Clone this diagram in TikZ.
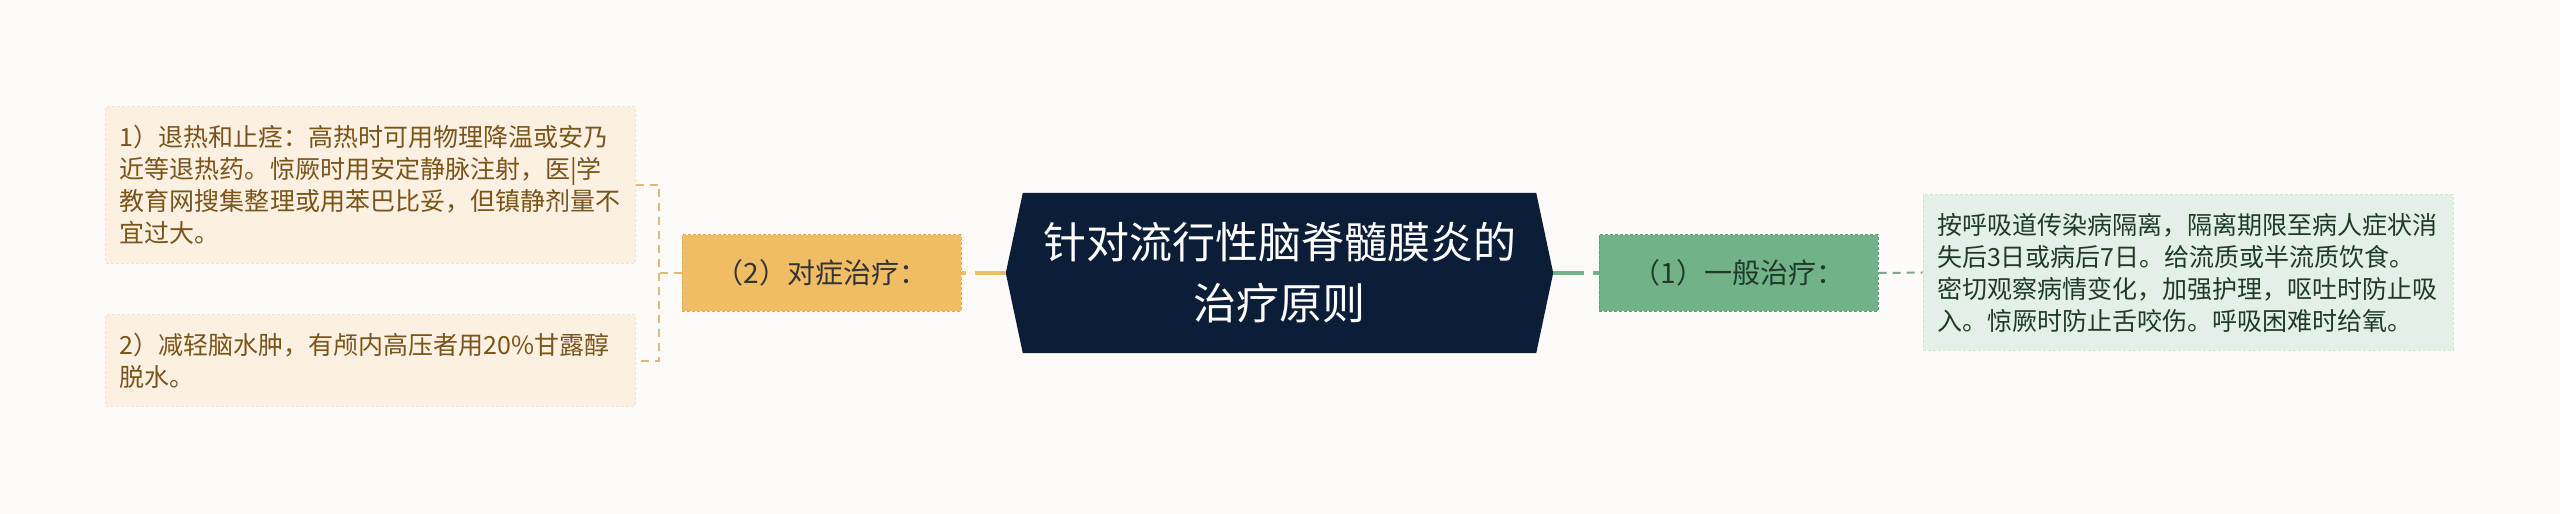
\documentclass[tikz,border=0pt]{standalone}
\usepackage{fontspec}
\setmainfont{Noto Sans CJK SC}
\usepackage{xcolor}
\usepackage{tikz}
\usetikzlibrary{backgrounds}

\definecolor{paper}{HTML}{FDFAF8}
\definecolor{navy}{HTML}{0C1E37}
\definecolor{amber}{HTML}{F0BD65}
\definecolor{amberline}{HTML}{E2AC52}
\definecolor{cream}{HTML}{FBF0E1}
\definecolor{creamline}{HTML}{F3E2C8}
\definecolor{brown}{HTML}{7A5418}
\definecolor{sage}{HTML}{72B288}
\definecolor{sageline}{HTML}{5F9E75}
\definecolor{mint}{HTML}{E3F0E7}
\definecolor{mintline}{HTML}{CFE3D6}
\definecolor{pine}{HTML}{1F3A2A}
\definecolor{bracket}{HTML}{E2B978}
\definecolor{twig}{HTML}{7FA68D}

\begin{document}
\begin{tikzpicture}[
            x=1bp, y=-1bp, % pixel grid, y downwards
            every node/.style={inner sep=0pt, align=left}, % plain nodes
            rootnode/.style={minimum width=513bp, minimum height=160bp, text=white,
                align=center, font=\fontsize{43bp}{61bp}\selectfont}, % centre title
            branch/.style={minimum width=279bp, minimum height=76bp, line width=1bp,
                dash pattern=on 3bp off 2bp, font=\fontsize{28bp}{34bp}\selectfont}, % middle nodes
            leaf/.style={inner xsep=14bp, minimum height=#1, line width=1bp,
                dash pattern=on 3bp off 2bp, font=\fontsize{25bp}{32bp}\selectfont}, % text boxes
            thick link/.style={line width=4bp, dash pattern=on 31bp off 9bp}, % root to branch
            thin link/.style={line width=2bp, dash pattern=on 8bp off 6bp} % branch to leaf
            ]

                % Root in the middle
                \node[rootnode] (root) at (1279.5,273) {针对流行性脑脊髓膜炎的\\治疗原则};
                \coordinate (rootW) at ([xshift=-17bp]root.west);
                \coordinate (rootE) at ([xshift=17bp]root.east);

                % Left side
                \node[branch, fill=amber, draw=amberline, text=black!80] (cure2) at (821.5,273) {（2）对症治疗：};
                \node[leaf=156bp, text width=501bp, fill=cream, draw=creamline, text=brown] (fever) at (370.5,185)
                    {1）退热和止痉：高热时可用物理降温或安乃\\近等退热药。惊厥时用安定静脉注射，医|学\\教育网搜集整理或用苯巴比妥，但镇静剂量不\\宜过大。};
                \node[leaf=91bp, text width=501bp, fill=cream, draw=creamline, text=brown] (edema) at (370.5,360.5)
                    {2）减轻脑水肿，有颅内高压者用20\%甘露醇\\脱水。};

                % Right side
                \node[branch, fill=sage, draw=sageline, text=pine] (cure1) at (1738.5,273) {（1）一般治疗：};
                \node[leaf=155bp, text width=502bp, fill=mint, draw=mintline, text=pine] (care) at (2188,272.5)
                    {按呼吸道传染病隔离，隔离期限至病人症状消\\失后3日或病后7日。给流质或半流质饮食。\\密切观察病情变化，加强护理，呕吐时防止吸\\入。惊厥时防止舌咬伤。呼吸困难时给氧。};

                % Connectors
                \coordinate (fork) at (659,273);
                \draw[thick link, amber] (rootW) -- (cure2.east);
                \draw[thin link, bracket] (cure2.west) -- (fork) |- (fever.east);
                \draw[thin link, bracket] (fork) |- (edema.east);
                \draw[thick link, sage] (rootE) -- (cure1.west);
                \draw[thin link, twig] (cure1.east) -- (care.west);

                \begin{scope}[on background layer]
                    \fill[paper] (0,0) rectangle (2560,514);
                    \fill[navy] (root.north west) -- (root.north east) -- (rootE) -- (root.south east)
                        -- (root.south west) -- (rootW) -- cycle;
                \end{scope}

            \end{tikzpicture}
\end{document}
